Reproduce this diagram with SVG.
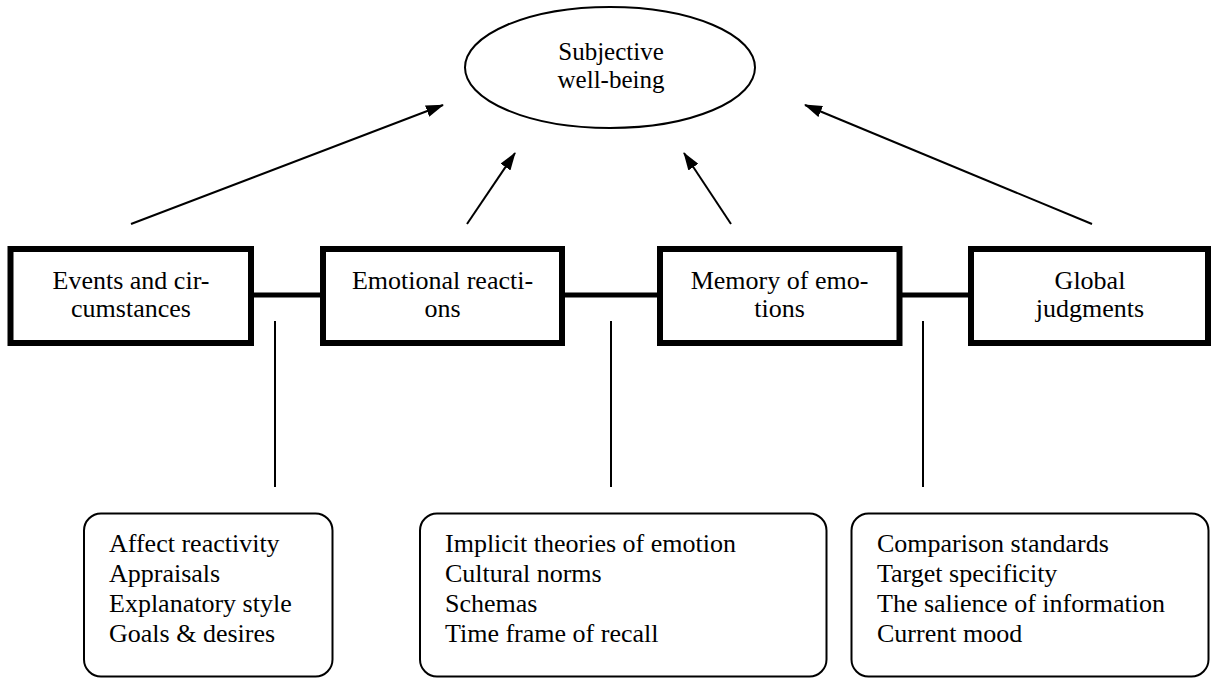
<svg xmlns="http://www.w3.org/2000/svg" width="1211" height="679" viewBox="0 0 1211 679">
<style>
text{font-family:"Liberation Serif","Times New Roman",serif;font-size:26px;fill:#000}
.c{text-anchor:middle}
.e{font-size:25px}
.box{fill:#fff;stroke:#000;stroke-width:6}
.rb{fill:#fff;stroke:#000;stroke-width:2}
.ell{fill:#fff;stroke:#000;stroke-width:2}
.arr{stroke:#000;stroke-width:2;fill:none}
.link{stroke:#000;stroke-width:5;fill:none}
.thin{stroke:#000;stroke-width:2;fill:none}
</style>
<defs>
<marker id="ah" markerUnits="userSpaceOnUse" markerWidth="18" markerHeight="12" refX="17" refY="6" orient="auto">
<path d="M0,0 L18,6 L0,12 z" fill="#000"/>
</marker>
</defs>
<rect width="1211" height="679" fill="#fff"/>
<g id="connectors">
<line class="arr" x1="131" y1="224" x2="443" y2="105" marker-end="url(#ah)"/>
<line class="arr" x1="467" y1="224" x2="515" y2="153" marker-end="url(#ah)"/>
<line class="arr" x1="731" y1="224" x2="684" y2="153" marker-end="url(#ah)"/>
<line class="arr" x1="1092" y1="224" x2="805" y2="105" marker-end="url(#ah)"/>
<line class="link" x1="251" y1="295" x2="323" y2="295"/>
<line class="link" x1="562" y1="295" x2="660" y2="295"/>
<line class="link" x1="899" y1="295" x2="971" y2="295"/>
<line class="thin" x1="275" y1="321" x2="275" y2="487"/>
<line class="thin" x1="611" y1="321" x2="611" y2="487"/>
<line class="thin" x1="923" y1="321" x2="923" y2="487"/>
</g>
<g id="swb">
<ellipse class="ell" cx="610" cy="67.5" rx="145" ry="60.5"/>
<text class="c e" x="611" y="60">Subjective</text>
<text class="c e" x="611" y="88">well-being</text>
</g>
<g id="events">
<rect class="box" x="10.5" y="249" width="240.5" height="94"/>
<text class="c" x="131" y="289">Events and cir-</text>
<text class="c" x="131" y="317">cumstances</text>
</g>
<g id="emotional">
<rect class="box" x="323" y="249" width="239" height="94"/>
<text class="c" x="442.5" y="289">Emotional reacti-</text>
<text class="c" x="442.5" y="317">ons</text>
</g>
<g id="memory">
<rect class="box" x="660" y="249" width="239.5" height="94"/>
<text class="c" x="779.5" y="289">Memory of emo-</text>
<text class="c" x="779.5" y="317">tions</text>
</g>
<g id="global">
<rect class="box" x="971" y="249" width="237" height="94"/>
<text class="c" x="1090" y="289">Global</text>
<text class="c" x="1090" y="317">judgments</text>
</g>
<g id="factors1">
<rect class="rb" x="84" y="513.5" width="248.5" height="163" rx="17" ry="17"/>
<text x="109" y="552">Affect reactivity</text>
<text x="109" y="582">Appraisals</text>
<text x="109" y="612">Explanatory style</text>
<text x="109" y="642">Goals &amp; desires</text>
</g>
<g id="factors2">
<rect class="rb" x="420" y="513.5" width="406.5" height="163" rx="17" ry="17"/>
<text x="445" y="552">Implicit theories of emotion</text>
<text x="445" y="582">Cultural norms</text>
<text x="445" y="612">Schemas</text>
<text x="445" y="642">Time frame of recall</text>
</g>
<g id="factors3">
<rect class="rb" x="851.5" y="513.5" width="357" height="163" rx="17" ry="17"/>
<text x="877" y="552">Comparison standards</text>
<text x="877" y="582">Target specificity</text>
<text x="877" y="612">The salience of information</text>
<text x="877" y="642">Current mood</text>
</g>
</svg>
